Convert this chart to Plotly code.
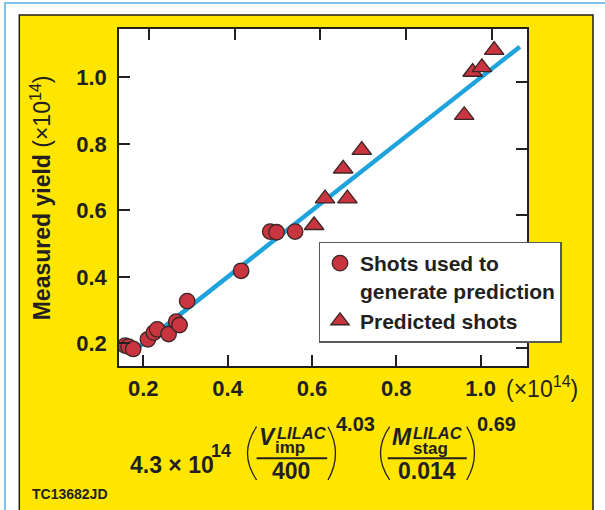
import plotly.graph_objects as go

# ---------------- data ----------------
used_x = [0.157, 0.165, 0.176, 0.211, 0.225, 0.233, 0.260, 0.278, 0.286, 0.304, 0.432, 0.501, 0.516, 0.560]
used_y = [0.193, 0.190, 0.183, 0.212, 0.232, 0.242, 0.228, 0.265, 0.255, 0.327, 0.418, 0.536, 0.534, 0.536]
pred_x = [0.605, 0.631, 0.684, 0.674, 0.718, 0.961, 0.981, 1.003, 1.032]
pred_y = [0.555, 0.635, 0.635, 0.725, 0.781, 0.886, 1.016, 1.030, 1.082]
fit_x = [0.175, 1.093]
fit_y = [0.175, 1.092]
tick_vals = [0.2, 0.4, 0.6, 0.8, 1.0]
tick_text = ["0.2", "0.4", "0.6", "0.8", "1.0"]
legend_used = "Shots used to<br>generate prediction"
legend_pred = "Predicted shots"

# ---------------- styles ----------------
W, H = 605, 510
ML, MR, MT, MB = 119, 78, 29, 144
PW, PH = W - ML - MR, H - MT - MB
INK = "#231F20"
YELLOW = "#FFE600"
RED = "#C8353E"
BLUE = "#1FA3DC"
FONT = "Liberation Sans"


def px(x):
    return (x - ML) / PW


def py(y):
    return (H - MB - y) / PH


fig = go.Figure()
fig.add_trace(go.Scatter(x=fit_x, y=fit_y, mode="lines", line=dict(color=BLUE, width=4.5),
                         showlegend=False, hoverinfo="skip"))
fig.add_trace(go.Scatter(x=used_x, y=used_y, mode="markers", name=legend_used,
                         marker=dict(symbol="circle", size=15.5, color=RED,
                                     line=dict(color="#3A2626", width=1.3))))
fig.add_trace(go.Scatter(x=pred_x, y=pred_y, mode="markers", name=legend_pred,
                         marker=dict(symbol="triangle-up", size=17, color=RED,
                                     line=dict(color="#3A2626", width=1.3))))
# helper trace so that the offset top/right tick axes are drawn
fig.add_trace(go.Scatter(x=[None], y=[None], xaxis="x2", yaxis="y2", showlegend=False,
                         hoverinfo="skip"))

axis_common = dict(tickvals=tick_vals, ticks="inside", ticklen=11, tickwidth=1.5,
                   tickcolor=INK, showgrid=False, zeroline=False)

fig.update_layout(
    width=W, height=H,
    margin=dict(l=ML, r=MR, t=MT, b=MB, pad=0),
    paper_bgcolor="white", plot_bgcolor="white",
    font=dict(family=FONT, color=INK),
    xaxis=dict(range=[0.14238, 1.10989], ticktext=tick_text, showline=True, mirror=True,
               linecolor=INK, linewidth=1.5,
               tickfont=dict(size=22, weight="bold", family=FONT, color=INK),
               ticklabelstandoff=2, **axis_common),
    yaxis=dict(range=[0.13173, 1.14526], ticktext=tick_text, showline=True, mirror=True,
               linecolor=INK, linewidth=1.5,
               tickfont=dict(size=22, weight="bold", family=FONT, color=INK),
               ticklabelstandoff=6, **axis_common),
    xaxis2=dict(range=[0.13, 1.0822], overlaying="x", side="top", anchor="y2",
                showticklabels=False, showline=False, **axis_common),
    yaxis2=dict(range=[0.1468, 1.1603], overlaying="y", side="right", anchor="x2",
                showticklabels=False, showline=False, **axis_common),
    legend=dict(x=px(318.5), y=py(241.5), xanchor="left", yanchor="top",
                bgcolor="white", bordercolor="#58595B", borderwidth=1.5,
                font=dict(size=21, weight="bold", family=FONT, color=INK),
                valign="top", tracegroupgap=0),
)

shapes = [
    dict(type="rect", xref="paper", yref="paper", x0=px(5), x1=px(640), y0=py(3), y1=py(540),
         line=dict(color="#55B0E0", width=1.5), fillcolor="rgba(0,0,0,0)", layer="below"),
    dict(type="rect", xref="paper", yref="paper", x0=px(19.3), x1=px(593), y0=py(15), y1=py(540),
         line=dict(color=INK, width=1.5), fillcolor=YELLOW, layer="below"),
    dict(type="rect", xref="paper", yref="paper", x0=0, x1=1, y0=0, y1=1,
         line=dict(width=0), fillcolor="white", layer="below"),
    # fraction bars
    dict(type="line", xref="paper", yref="paper", x0=px(256.6), x1=px(327.2), y0=py(458.3), y1=py(458.3),
         line=dict(color=INK, width=2)),
    dict(type="line", xref="paper", yref="paper", x0=px(387.7), x1=px(466.8), y0=py(458.3), y1=py(458.3),
         line=dict(color=INK, width=2)),
]


def paren(x_end, x_mid, top=426.7, bot=480.0):
    xc = 2 * x_mid - x_end
    ym = (top + bot) / 2
    return dict(type="path", xref="paper", yref="paper",
                path=f"M {px(x_end)},{py(top)} Q {px(xc)},{py(ym)} {px(x_end)},{py(bot)}",
                line=dict(color=INK, width=1.3))


shapes += [paren(256.6, 247.5), paren(328.0, 335.5), paren(389.7, 380.5), paren(466.8, 474.5)]
fig.update_layout(shapes=shapes)


def ann(text, x, y, size, xanchor="left", yanchor="middle", bold=True, italic=False, angle=0):
    return dict(text=text, x=px(x), y=py(y), xref="paper", yref="paper", showarrow=False,
                xanchor=xanchor, yanchor=yanchor, textangle=angle, borderpad=0,
                font=dict(size=size, family=FONT, color=INK, weight="bold" if bold else "normal",
                          style="italic" if italic else "normal"))


annotations = [
    ann("<b>Measured yield</b> (×10<sup>14</sup>)", 41.0, 198.3, 23, xanchor="center", bold=False, angle=-90),
    ann("(×10<sup>14</sup>)", 505.0, 386.5, 23, bold=False),
    ann("4.3 × 10", 214.5, 465.0, 23, xanchor="right"),
    ann("14", 209.5, 451.0, 18),
    ann("V", 257.5, 436.5, 23, italic=True),
    ann("LILAC", 275.5, 432.5, 16.5, italic=True),
    ann("imp", 274.0, 447.5, 17),
    ann("400", 291.3, 471.0, 23, xanchor="center"),
    ann("4.03", 335.2, 424.0, 20),
    ann("M", 390.6, 436.5, 23, italic=True),
    ann("LILAC", 411.5, 432.5, 16.5, italic=True),
    ann("stag", 412.0, 448.5, 17),
    ann("0.014", 427.3, 471.0, 23, xanchor="center"),
    ann("0.69", 476.0, 424.0, 20),
    ann("TC13682JD", 30.5, 494.0, 14),
]
fig.update_layout(annotations=annotations)

fig.write_html("out.html", config={"displayModeBar": False},
               post_script="document.body.style.margin='0';")
